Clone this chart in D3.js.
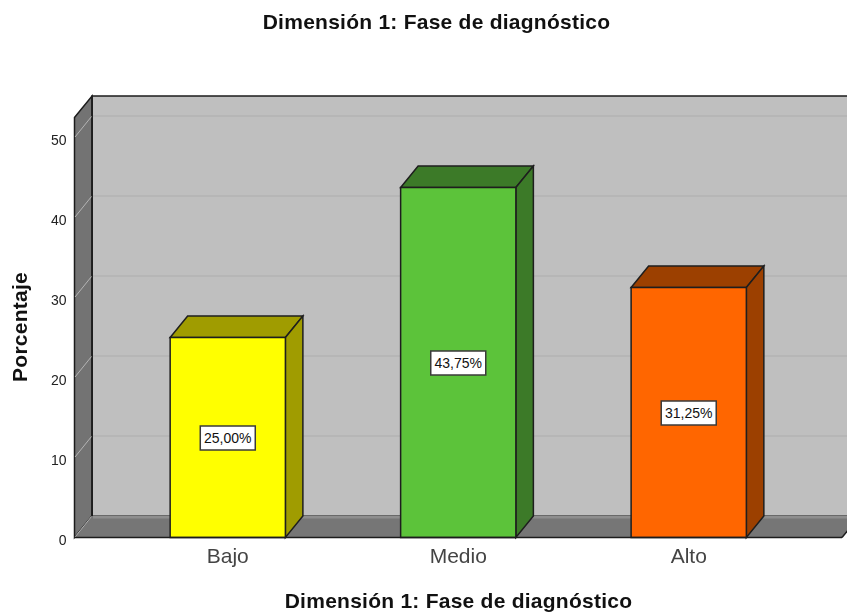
<!DOCTYPE html>
<html>
<head>
<meta charset="utf-8">
<script src="https://cdn.jsdelivr.net/npm/d3@7"></script>
<style>
html, body { margin: 0; padding: 0; background: #fff; }
svg { display: block; font-family: "Liberation Sans", Arial, sans-serif; filter: blur(0.4px); }
</style>
</head>
<body>
<div id="chart"></div>
<script>
var categories = ["Bajo", "Medio", "Alto"];
var percentages = [25, 43.75, 31.25];
var valueLabels = ["25,00%", "43,75%", "31,25%"];
var frontColors = ["#ffff00", "#5cc33a", "#ff6600"];
var sideColors = ["#a09c00", "#3c7a28", "#9c4000"];
var yTicks = [0, 10, 20, 30, 40, 50];
var titleText = "Dimensión 1: Fase de diagnóstico";

var width = 847, height = 613;
var depthX = 17.5, depthY = -21.5;
var dark = "#1c1c1c";

var svg = d3.select("#chart").append("svg").attr("width", width).attr("height", height);

var x = d3.scaleBand().domain(categories).range([74.5, 842]).paddingInner(0.5).paddingOuter(0.415);
var y = d3.scaleLinear().domain([0, 52.5]).range([537.5, 117.5]);

function pts(a) { return a.map(p => p.join(",")).join(" "); }

var x0 = x.range()[0], x1 = x.range()[1], yB = y(0), yT = y(52.5);

// back wall
svg.append("rect").attr("x", x0 + depthX).attr("y", yT + depthY)
  .attr("width", x1 - x0).attr("height", yB - yT)
  .attr("fill", "#bfbfbf").attr("stroke", dark).attr("stroke-width", 1.5);

// left wall and floor
svg.append("polygon")
  .attr("points", pts([[x0, yT], [x0 + depthX, yT + depthY], [x0 + depthX, yB + depthY], [x0, yB]]))
  .attr("fill", "#737373").attr("stroke", dark).attr("stroke-width", 1.5);
svg.append("polygon")
  .attr("points", pts([[x0, yB], [x0 + depthX, yB + depthY], [x1 + depthX, yB + depthY], [x1, yB]]))
  .attr("fill", "#767676").attr("stroke", "none");
svg.append("line").attr("x1", x0 + depthX + 1).attr("x2", x1 + depthX)
  .attr("y1", yB + depthY + 1).attr("y2", yB + depthY + 1)
  .attr("stroke", "#8e8e8e").attr("stroke-width", 3);
svg.append("line").attr("x1", x1).attr("x2", x1 + depthX)
  .attr("y1", yB).attr("y2", yB + depthY)
  .attr("stroke", dark).attr("stroke-width", 1.5);
svg.append("line").attr("x1", x0 + depthX).attr("x2", x0 + depthX)
  .attr("y1", yT + depthY).attr("y2", yB + depthY)
  .attr("stroke", dark).attr("stroke-width", 1.5);

// gridlines, back wall and the slanted bit on the left wall
var gridVals = yTicks.filter(d => d > 0);
svg.selectAll(".grid").data(gridVals).enter().append("line").attr("class", "grid")
  .attr("x1", x0 + depthX + 1).attr("x2", width)
  .attr("y1", d => y(d) + depthY).attr("y2", d => y(d) + depthY)
  .attr("stroke", "#b3b3b3").attr("stroke-width", 1.5);
svg.selectAll(".gridSide").data(yTicks).enter().append("line").attr("class", "gridSide")
  .attr("x1", x0 + 0.5).attr("x2", x0 + depthX - 0.5)
  .attr("y1", d => y(d) - 0.5).attr("y2", d => y(d) + depthY + 0.5)
  .attr("stroke", "#b4b4b4").attr("stroke-width", 1);

// bars
var bars = svg.selectAll(".bar").data(categories).enter().append("g").attr("class", "bar");
var barStroke = "#1e1e1e";
bars.append("polygon")
  .attr("points", (d, i) => {
    var l = x(d), r = l + x.bandwidth(), t = y(percentages[i]);
    return pts([[l, t], [l + depthX, t + depthY], [r + depthX, t + depthY], [r, t]]);
  })
  .attr("fill", (d, i) => sideColors[i]).attr("stroke", barStroke).attr("stroke-width", 1.5);
bars.append("polygon")
  .attr("points", (d, i) => {
    var r = x(d) + x.bandwidth(), t = y(percentages[i]);
    return pts([[r, t], [r + depthX, t + depthY], [r + depthX, yB + depthY], [r, yB]]);
  })
  .attr("fill", (d, i) => sideColors[i]).attr("stroke", barStroke).attr("stroke-width", 1.5);
bars.append("rect")
  .attr("x", d => x(d))
  .attr("y", (d, i) => y(percentages[i]))
  .attr("width", x.bandwidth())
  .attr("height", (d, i) => yB - y(percentages[i]))
  .attr("fill", (d, i) => frontColors[i]).attr("stroke", barStroke).attr("stroke-width", 1.5);

// value labels
bars.append("rect")
  .attr("x", d => x(d) + x.bandwidth() / 2 - 27.5)
  .attr("y", (d, i) => y(percentages[i] / 2) - 11.5)
  .attr("width", 55).attr("height", 24)
  .attr("fill", "#fff").attr("stroke", "#3a3a3a").attr("stroke-width", 1.5);
bars.append("text")
  .attr("x", d => x(d) + x.bandwidth() / 2)
  .attr("y", (d, i) => y(percentages[i] / 2) + 5.5)
  .attr("text-anchor", "middle").attr("font-size", 14).attr("fill", "#111")
  .text((d, i) => valueLabels[i]);

// front baseline
svg.append("line").attr("x1", x0).attr("x2", x1).attr("y1", yB).attr("y2", yB)
  .attr("stroke", dark).attr("stroke-width", 1.5);

// axes
var yAxis = svg.append("g").attr("transform", "translate(" + x0 + ",0)")
  .call(d3.axisLeft(y).tickValues(yTicks).tickSize(0).tickPadding(8));
yAxis.select(".domain").remove();
yAxis.selectAll("text").attr("font-size", 14).attr("font-family", "Liberation Sans").attr("fill", "#222").attr("dy", "0.5em");

var xAxis = svg.append("g").attr("transform", "translate(0," + yB + ")")
  .call(d3.axisBottom(x).tickSize(0).tickPadding(11));
xAxis.select(".domain").remove();
xAxis.selectAll("text").attr("font-size", 21).attr("font-family", "Liberation Sans").attr("fill", "#444");

// titles
svg.append("text").attr("x", 436.5).attr("y", 28.5).attr("text-anchor", "middle")
  .attr("font-size", 21).attr("font-weight", "bold").attr("fill", "#111").attr("letter-spacing", "0.25px").text(titleText);
svg.append("text").attr("x", 458.5).attr("y", 608).attr("text-anchor", "middle")
  .attr("font-size", 21).attr("font-weight", "bold").attr("fill", "#111").attr("letter-spacing", "0.25px").text(titleText);
svg.append("text").attr("transform", "translate(27,327) rotate(-90)").attr("text-anchor", "middle")
  .attr("font-size", 21).attr("font-weight", "bold").attr("fill", "#111").attr("letter-spacing", "0.25px").text("Porcentaje");
</script>
</body>
</html>
